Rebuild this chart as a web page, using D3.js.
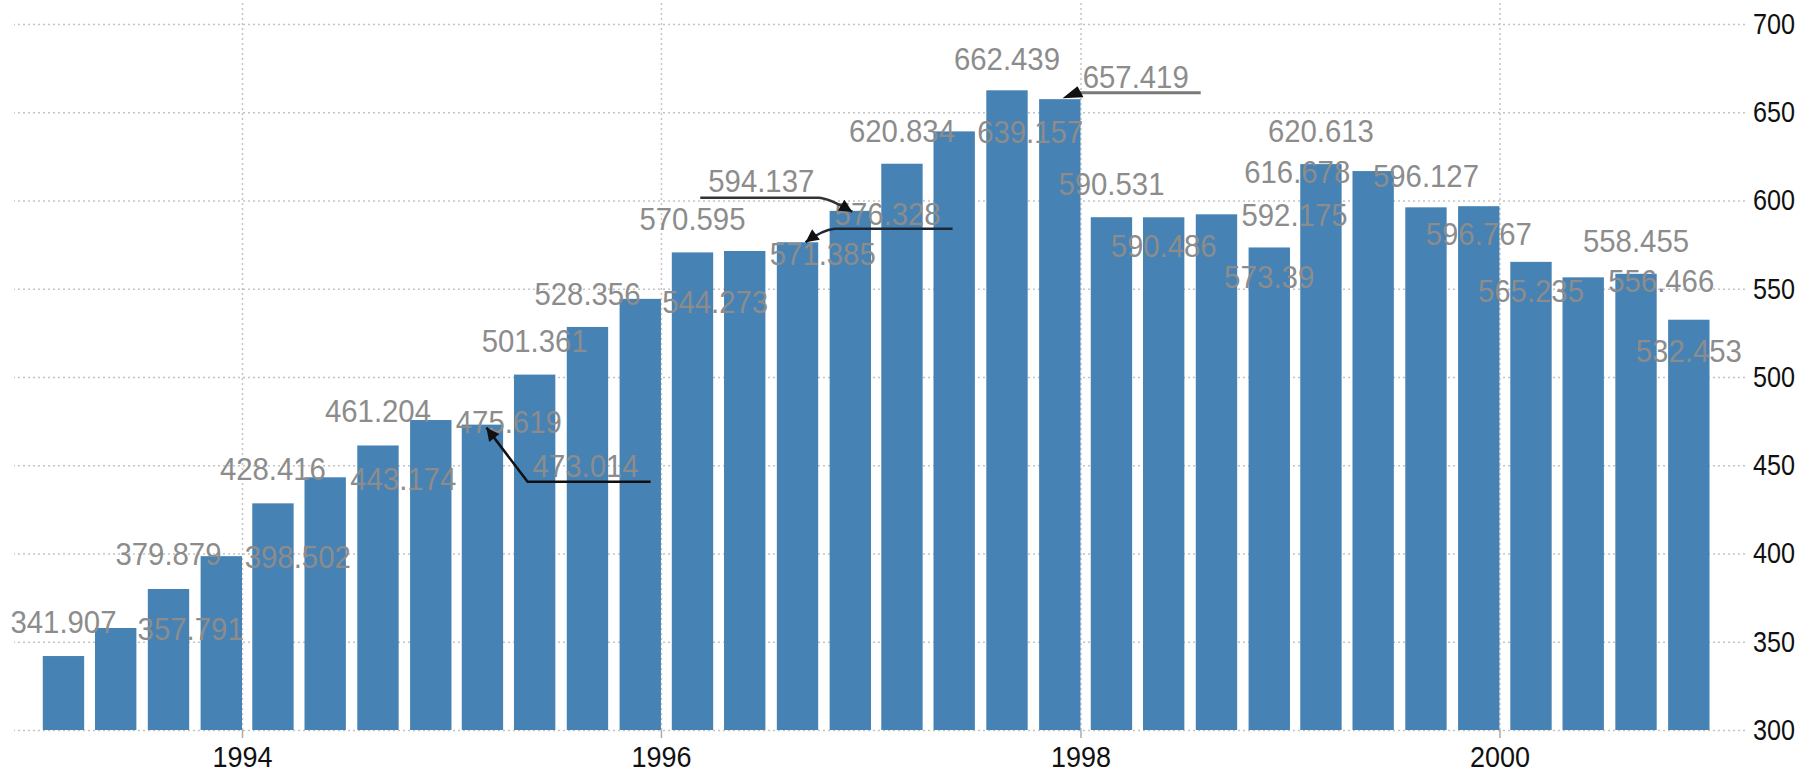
<!DOCTYPE html>
<html>
<head>
<meta charset="utf-8">
<script src="https://cdn.jsdelivr.net/npm/d3@7/dist/d3.min.js"></script>
<style>
  body { margin: 0; background: #fff; }
  .grid line { stroke: #c4c4c4; stroke-width: 1.5; stroke-dasharray: 2,3; }
  .grid path { display: none; }
  .axis path { display: none; }
  .axis text { font-family: "Liberation Sans", Arial, sans-serif; font-size: 29px; fill: #111; }
  .vlabel { font-family: "Liberation Sans", Arial, sans-serif; font-size: 31px; fill: #8c8c8c; }
</style>
</head>
<body>
<div id="chart"></div>
<script>
// quarterly values, 1993 Q1 .. 2000 Q4
var quarters = ["1993Q1","1993Q2","1993Q3","1993Q4","1994Q1","1994Q2","1994Q3","1994Q4",
                "1995Q1","1995Q2","1995Q3","1995Q4","1996Q1","1996Q2","1996Q3","1996Q4",
                "1997Q1","1997Q2","1997Q3","1997Q4","1998Q1","1998Q2","1998Q3","1998Q4",
                "1999Q1","1999Q2","1999Q3","1999Q4","2000Q1","2000Q2","2000Q3","2000Q4"];

var values = [341.907, 357.791, 379.879, 398.502, 428.416, 443.174, 461.204, 475.619,
              473.014, 501.361, 528.356, 544.273, 570.595, 571.385, 576.328, 594.137,
              620.834, 639.157, 662.439, 657.419, 590.531, 590.486, 592.175, 573.39,
              620.613, 616.678, 596.127, 596.767, 565.235, 556.466, 558.455, 532.453];

// value label placement: shift in quarters, baseline level in axis units
var labelShift = [0, 1.43, 0, 1.46, 0, 1.49, 0, 1.49, 1.97, 0, 0, 1.43, 0, 1.49, 1.72, -1.70,
                  0, 1.45, 0, 1.45, 0, 0, 1.49, 0, 0, -1.45, 0, 0, 0, 1.49, 0, 0];
var labelLevel = [355.0, 351.0, 393.5, 391.8, 441.7, 436.1, 474.6, 468.4, 443.5, 514.3, 540.9, 536.4,
                  583.4, 563.6, 586.3, 605.0, 633.3, 632.8, 674.1, 663.9, 603.3, 568.1, 585.5, 550.6,
                  633.3, 610.1, 607.8, 574.9, 542.6, 548.3, 571.0, 508.6];

var yTicks = [300, 350, 400, 450, 500, 550, 600, 650, 700];

var svgWidth = 1800;
var svgHeight = 773;

var svg = d3.select("#chart")
  .append("svg")
  .attr("width", svgWidth)
  .attr("height", svgHeight);

// quarter end (start of the next quarter)
function quarterEnd(q) {
  var yr = +q.slice(0, 4);
  var n = +q.slice(5);
  return new Date(yr, n * 3, 1);
}

// squeezed width of a number string (the source font is narrow)
function textWidth(s, digitW, dotW) {
  var w = 0;
  for (var k = 0; k < s.length; k++) w += s[k] === "." ? dotW : digitW;
  return w;
}

var x = d3.scaleTime()
  .domain([new Date(1993, 0, 1), new Date(2001, 0, 1)])
  .range([32.5, 1709.5]);

var y = d3.scaleLinear()
  .domain([300, 700])
  .range([730, 24]);

var qWidth = (x(new Date(1994, 0, 1)) - x(new Date(1993, 0, 1))) / 4;
var barWidth = qWidth * 0.79;

// horizontal grid
svg.append("g")
  .attr("class", "grid")
  .attr("transform", "translate(1745,0)")
  .call(d3.axisLeft(y).tickValues(yTicks).tickSize(1731).tickFormat(""));

// vertical grid every two years
svg.append("g")
  .attr("class", "grid")
  .attr("transform", "translate(0,730)")
  .call(d3.axisTop(x).ticks(d3.timeYear.every(2)).tickSize(730).tickFormat(""));

// bars
svg.selectAll("rect.bar")
  .data(values)
  .enter()
  .append("rect")
  .attr("class", "bar")
  .attr("x", (d, i) => x(quarterEnd(quarters[i])) - barWidth)
  .attr("y", d => y(d))
  .attr("width", barWidth)
  .attr("height", d => y(300) - y(d))
  .attr("fill", "#4682b4");

// x axis
var xAxis = svg.append("g")
  .attr("class", "axis")
  .attr("transform", "translate(0,730)")
  .call(d3.axisBottom(x).ticks(d3.timeYear.every(2)).tickFormat(d3.timeFormat("%Y")).tickSize(8).tickPadding(8));
xAxis.selectAll("line").attr("stroke", "#aaa").attr("stroke-width", 1.5);
xAxis.selectAll("text")
  .attr("dy", "0.71em")
  .attr("textLength", 60)
  .attr("lengthAdjust", "spacingAndGlyphs");

// y axis on the right
var yAxis = svg.append("g")
  .attr("class", "axis")
  .attr("transform", "translate(1745,0)")
  .call(d3.axisRight(y).tickValues(yTicks).tickSize(0).tickPadding(8));
yAxis.selectAll("text")
  .attr("textLength", 42)
  .attr("lengthAdjust", "spacingAndGlyphs");

// value labels
function barCenter(i) {
  return x(quarterEnd(quarters[i])) - barWidth / 2;
}

var labels = svg.selectAll("text.vlabel")
  .data(values)
  .enter()
  .append("text")
  .attr("class", "vlabel")
  .attr("x", (d, i) => barCenter(i) + labelShift[i] * qWidth)
  .attr("y", (d, i) => y(labelLevel[i]))
  .attr("text-anchor", "middle")
  .attr("textLength", d => textWidth(String(d), 15.5, 13))
  .attr("lengthAdjust", "spacingAndGlyphs")
  .text(d => String(d));

// leader lines
var defs = svg.append("defs");
defs.append("marker")
  .attr("id", "arrow")
  .attr("viewBox", "0 0 10 10")
  .attr("refX", 10)
  .attr("refY", 5)
  .attr("markerWidth", 17)
  .attr("markerHeight", 13)
  .attr("markerUnits", "userSpaceOnUse")
  .attr("orient", "auto")
  .append("path")
  .attr("d", "M0,0 L10,5 L0,10 z")
  .attr("fill", "#111");

function labelBox(i) {
  var w = textWidth(String(values[i]), 15.5, 13);
  var cx = barCenter(i) + labelShift[i] * qWidth;
  return { left: cx - w / 2, right: cx + w / 2, base: y(labelLevel[i]) };
}

// 473.014 -> its bar
var b = labelBox(8);
svg.append("path")
  .attr("d", `M${b.right + 12},${b.base + 5} L${b.left - 5},${b.base + 5} L${barCenter(8) + 4},${y(values[8]) + 3}`)
  .attr("fill", "none").attr("stroke", "#111").attr("stroke-width", 2.5)
  .attr("marker-end", "url(#arrow)");

// 576.328 -> its bar
b = labelBox(14);
svg.append("path")
  .attr("d", `M${b.right + 12},${b.base + 4} L${b.left},${b.base + 4} Q${b.left - 12},${b.base + 5} ${barCenter(14) + 8},${y(values[14])}`)
  .attr("fill", "none").attr("stroke", "#1c2835").attr("stroke-width", 2.5)
  .attr("marker-end", "url(#arrow)");

// 594.137 -> its bar
b = labelBox(15);
svg.append("path")
  .attr("d", `M${b.left - 8},${b.base + 6} L${b.right + 4},${b.base + 6} Q${b.right + 14},${b.base + 6} ${barCenter(15) + 2},${y(values[15]) + 1}`)
  .attr("fill", "none").attr("stroke", "#333").attr("stroke-width", 2.5)
  .attr("marker-end", "url(#arrow)");

// 657.419 -> its bar
b = labelBox(19);
var barRight = x(quarterEnd(quarters[19]));
var barTop = y(values[19]);
svg.append("path")
  .attr("d", `M${b.right + 12},${b.base + 5} L${b.left - 6},${b.base + 5}`)
  .attr("fill", "none").attr("stroke", "#7a7a7a").attr("stroke-width", 3);
svg.append("path")
  .attr("d", `M${barRight - 18},${barTop - 1} L${barRight - 3},${barTop - 13} L${barRight + 3},${barTop - 2} Z`)
  .attr("fill", "#111");
</script>
</body>
</html>
